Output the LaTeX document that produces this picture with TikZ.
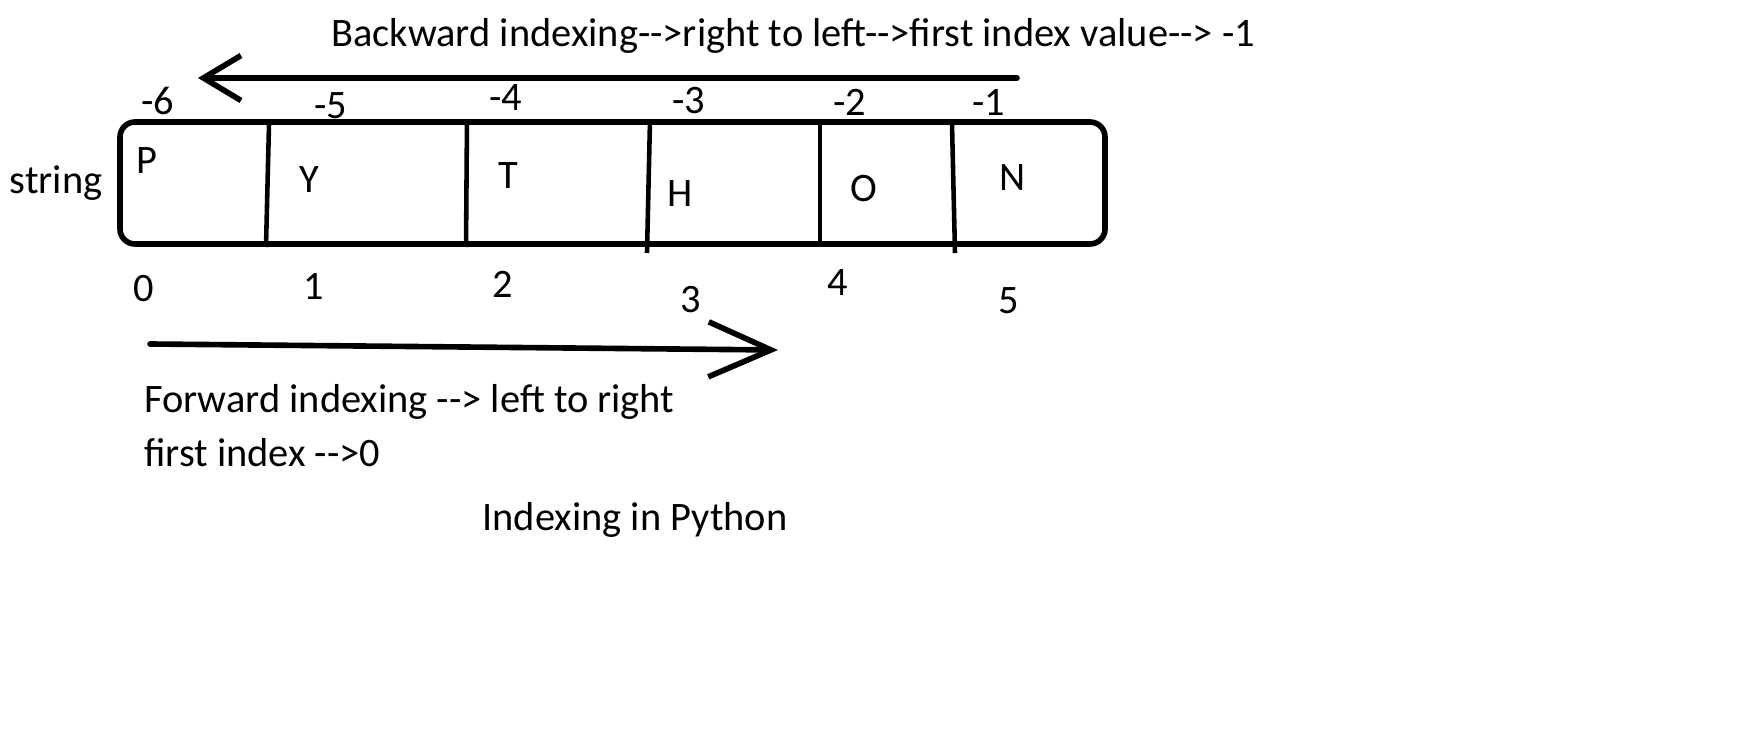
\documentclass[tikz,border=0pt]{standalone}
\usepackage{fontspec}
\setmainfont{Carlito}[Ligatures=TeXOff]
\usetikzlibrary{arrows.meta, positioning}

\begin{document}
\begin{tikzpicture}[x=0.02cm, y=-0.02cm,
  every node/.style={font=\fontsize{23}{28}\selectfont, inner sep=0pt},
  pen/.style={line width=3.2pt, line cap=round, line join=round},
  divider/.style={line width=2.6pt}]
  \useasboundingbox (0,0) rectangle (1742,736);
  % backward indexing
  \node[anchor=west] (backtext) at (331,36) {Backward indexing-->right to left-->first index value--> -1};
  \coordinate (bstart) at (1017,78);
  \coordinate (bend) at (198,78);
  \draw[pen, -{Straight Barb[length=0.75cm, width=0.9cm]}] (bstart) -- (bend);
  % negative indices
  \node (m6) at (158,101) {-6};
  \node (m5) at (331,106) {-5};
  \node (m4) at (506,98) {-4};
  \node (m3) at (689,101) {-3};
  \node (m2) at (850,102) {-2};
  \node (m1) at (989,103) {-1};
  % the string cells
  \node (strlabel) at (56,183) {string};
  \draw[pen, rounded corners=0.3cm] (120,122) rectangle (1105,244);
  \draw[divider] (269,124) -- (266,247);
  \draw[divider] (467,120) -- (466,247);
  \draw[divider] (650,120) -- (647,253);
  \draw[divider] (820,124) -- (820,242);
  \draw[divider] (952,124) -- (955,253);
  \node (cp) at (147,161) {P};
  \node (cy) at (309,180) {Y};
  \node (ct) at (508,176) {T};
  \node (ch) at (680,194) {H};
  \node (co) at (864,189) {O};
  \node (cn) at (1013,178) {N};
  % positive indices
  \node (p0) at (144,289) {0};
  \node (p1) at (314,287) {1};
  \node (p2) at (503,284) {2};
  \node (p3) at (691,300) {3};
  \node (p4) at (838,283) {4};
  \node (p5) at (1009,301) {5};
  % forward indexing
  \coordinate (fstart) at (150,344);
  \coordinate (fend) at (778,350);
  \draw[pen, -{Straight Barb[length=1.25cm, width=1.1cm]}] (fstart) -- (fend);
  \node[anchor=west] (fwdtext) at (144,402) {Forward indexing --> left to right};
  \node[anchor=west] (firsttext) at (144,453) {first index -->0};
  \node (caption) at (635,520) {Indexing in Python};
\end{tikzpicture}
\end{document}
